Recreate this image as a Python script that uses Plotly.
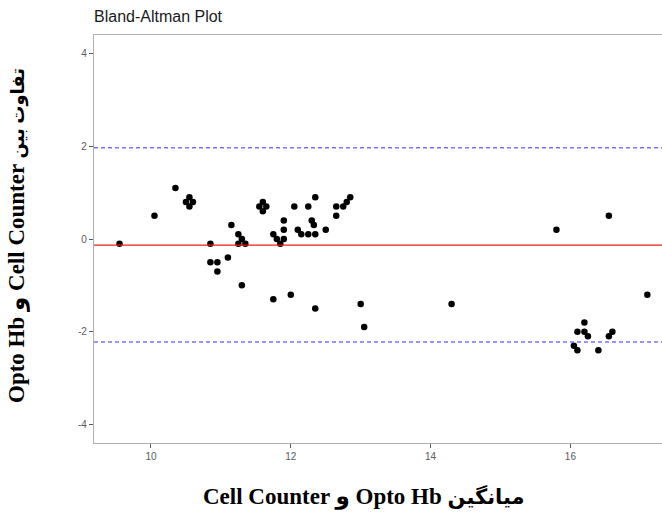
import plotly.graph_objects as go

# Mean of the two methods (x) and difference (y)
mean_values = [
    9.55, 10.05, 10.35, 10.55, 10.50, 10.60, 10.55,
    10.85, 10.85, 10.95, 10.95, 11.10, 11.15, 11.25, 11.25, 11.30, 11.35, 11.30,
    11.60, 11.55, 11.65, 11.60, 11.75, 11.80, 11.85, 11.90, 11.90, 11.90,
    11.75, 12.00, 12.05, 12.10, 12.15, 12.25, 12.25, 12.30, 12.33, 12.35, 12.35, 12.35,
    12.50, 12.65, 12.65, 12.75, 12.80, 12.85, 13.00, 13.05,
    14.30, 15.80, 16.55, 17.10,
    16.20, 16.10, 16.20, 16.25, 16.05, 16.10, 16.40, 16.55, 16.60,
]
differences = [
    -0.10, 0.50, 1.10, 0.90, 0.80, 0.80, 0.70,
    -0.10, -0.50, -0.50, -0.70, -0.40, 0.30, 0.10, -0.10, 0.00, -0.10, -1.00,
    0.80, 0.70, 0.70, 0.60, 0.10, 0.00, -0.10, 0.40, 0.20, 0.00,
    -1.30, -1.20, 0.70, 0.20, 0.10, 0.70, 0.10, 0.40, 0.30, 0.10, 0.90, -1.50,
    0.20, 0.70, 0.50, 0.70, 0.80, 0.90, -1.40, -1.90,
    -1.40, 0.20, 0.50, -1.20,
    -1.80, -2.00, -2.00, -2.10, -2.30, -2.40, -2.40, -2.10, -2.00,
]

bias = -0.13
upper_loa = 1.97
lower_loa = -2.22

x_ticks = [10, 12, 14, 16]
y_ticks = [-4, -2, 0, 2, 4]
y_tick_labels = ["-4", "-2", "0", "2", "4"]

chart_title = "Bland-Altman Plot"
# written in visual (left-to-right) order so the mixed Persian/Latin text lays out as in the picture
x_title = "Cell Counter و Opto Hb <span style='font-size:21px'>میانگین</span>"
y_title = "Opto Hb و Cell Counter <span style='font-size:18px'>تفاوت بین</span>"

X_RANGE = [9.185, 17.31]
Y_RANGE = [-4.4, 4.4]

fig = go.Figure()

fig.add_trace(go.Scatter(
    x=mean_values, y=differences, mode="markers",
    marker=dict(color="black", size=6.5, line=dict(width=0)),
    showlegend=False, hoverinfo="x+y",
))

fig.add_shape(type="line", xref="paper", x0=0, x1=1, yref="y", y0=bias, y1=bias,
              line=dict(color="#ee1c1c", width=1.3))
for v in (upper_loa, lower_loa):
    fig.add_shape(type="line", xref="paper", x0=0, x1=1, yref="y", y0=v, y1=v,
                  line=dict(color="#7373ff", width=1.5, dash="4px,3px"))

tick_font = dict(family="Liberation Sans, Arial, sans-serif", size=10, color="#5a5a5a")
title_font = dict(family="Liberation Serif, Times New Roman, DejaVu Sans, serif",
                  size=23, color="black", weight="bold")

fig.update_layout(
    width=662, height=517,
    margin=dict(l=94, r=0, t=35, b=74),
    plot_bgcolor="white", paper_bgcolor="white",
    title=dict(text=chart_title, x=94 / 662, xanchor="left", xref="container",
               y=1 - 16 / 517, yanchor="middle",
               font=dict(family="Liberation Sans, Arial, sans-serif", size=16, color="#1a1a1a")),
    xaxis=dict(range=X_RANGE, tickvals=x_ticks, ticktext=[str(t) for t in x_ticks],
               showgrid=False, zeroline=False,
               showline=True, linecolor="#b0b0b0", linewidth=1.3, mirror=True,
               ticks="outside", ticklen=4, tickcolor="#5a5a5a", tickwidth=1,
               tickfont=tick_font),
    yaxis=dict(range=Y_RANGE, tickvals=y_ticks, ticktext=y_tick_labels,
               showgrid=False, zeroline=False,
               showline=True, linecolor="#b0b0b0", linewidth=1.3,
               ticks="outside", ticklen=4, tickcolor="#5a5a5a", tickwidth=1,
               tickfont=tick_font),
    annotations=[
        dict(text=x_title, xref="paper", yref="paper",
             x=(364 - 94) / 568, y=(443 - 497) / 408,
             xanchor="center", yanchor="middle", showarrow=False, font=title_font),
        dict(text=y_title, xref="paper", yref="paper",
             x=(17 - 94) / 568, y=(443 - 236) / 408, textangle=-90,
             xanchor="center", yanchor="middle", showarrow=False, font=title_font),
    ],
)

fig.write_html(
    "out.html",
    config={"displayModeBar": False},
    post_script="document.body.style.margin='0';document.body.style.overflow='hidden';",
)
